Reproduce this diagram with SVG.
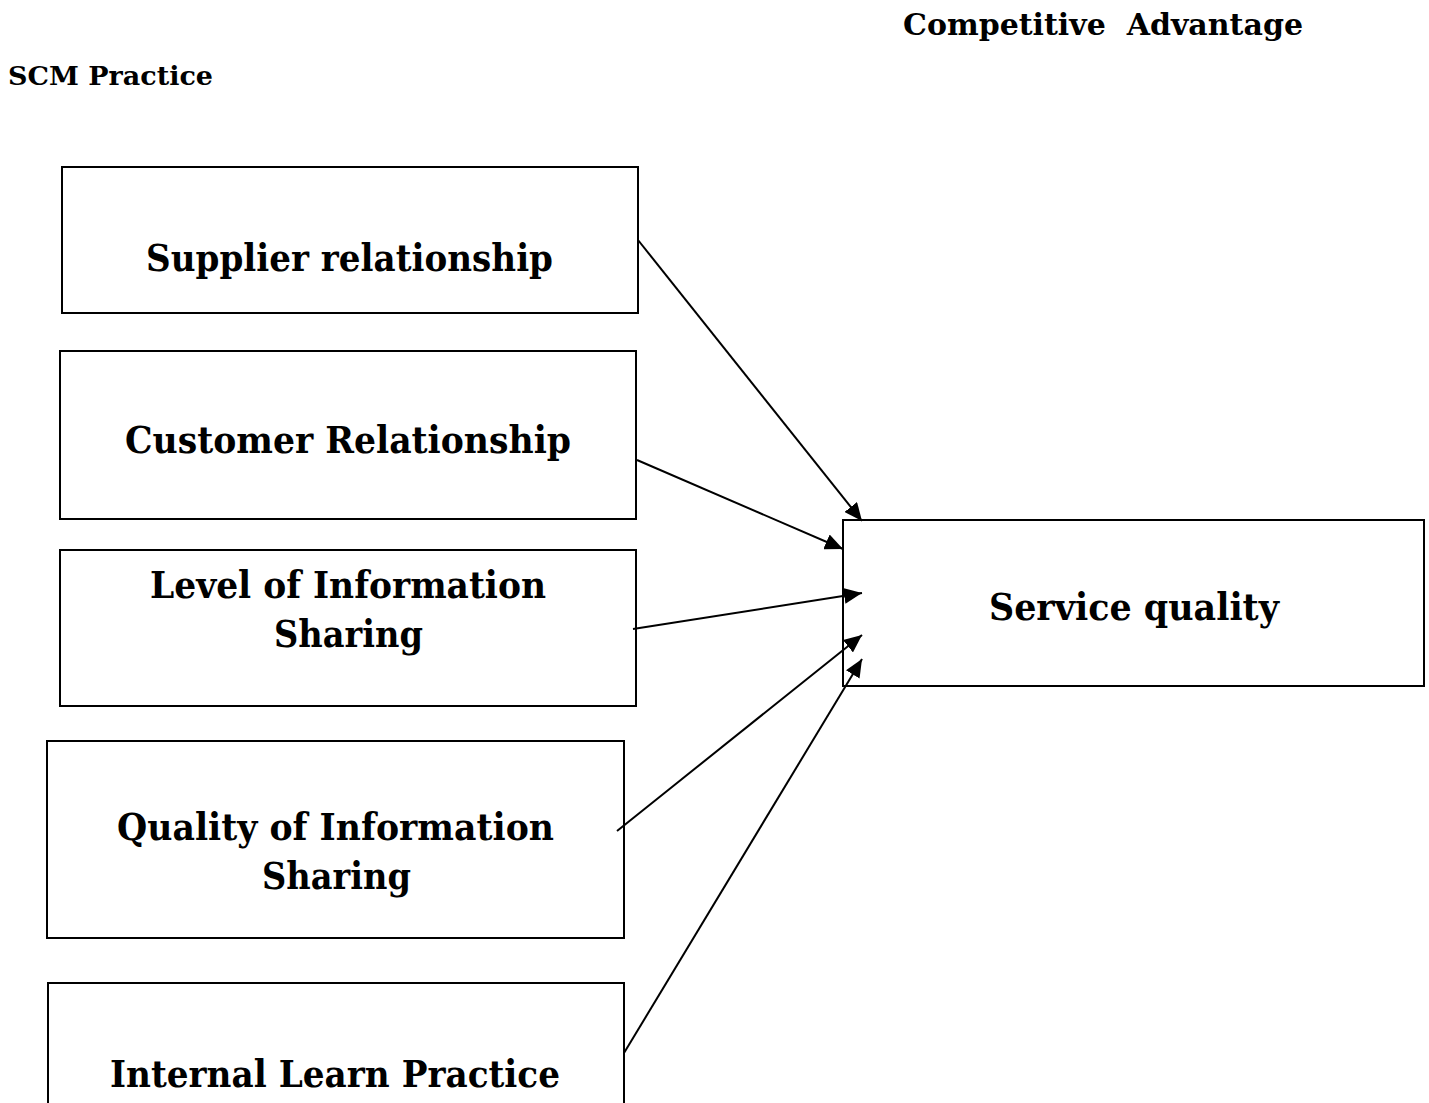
<svg xmlns="http://www.w3.org/2000/svg" width="1429" height="1103" viewBox="0 0 1429 1103">
  <style>
    .box { fill: #ffffff; stroke: #000000; stroke-width: 2; }
    .lbl { font-family: "DejaVu Serif", "Liberation Serif", serif; font-weight: bold; font-size: 38px; fill: #000000; }
    .head { font-family: "DejaVu Serif", "Liberation Serif", serif; font-weight: bold; fill: #000000; }
    .edge { stroke: #000000; stroke-width: 2; fill: none; marker-end: url(#arrow); }
  </style>
  <defs>
    <marker id="arrow" viewBox="0 0 10 10" refX="10" refY="5" markerWidth="9" markerHeight="8" orient="auto" markerUnits="strokeWidth" preserveAspectRatio="none">
      <path d="M0,0 L10,5 L0,10 Z" fill="#000000"/>
    </marker>
  </defs>
  <rect width="1429" height="1103" fill="#ffffff"/>

  <!-- section headings -->
  <g id="heading-ca">
    <text class="head" x="903" y="35" font-size="30" textLength="400" lengthAdjust="spacingAndGlyphs" xml:space="preserve">Competitive  Advantage</text>
  </g>
  <g id="heading-scm">
    <text class="head" x="8" y="85" font-size="26" textLength="205" lengthAdjust="spacingAndGlyphs">SCM Practice</text>
  </g>

  <!-- SCM practice nodes -->
  <g id="node-supplier">
    <rect class="box" x="62" y="167" width="576" height="146"/>
    <text class="lbl" x="146" y="271" textLength="407" lengthAdjust="spacingAndGlyphs">Supplier relationship</text>
  </g>
  <g id="node-customer">
    <rect class="box" x="60" y="351" width="576" height="168"/>
    <text class="lbl" x="125" y="453" textLength="446" lengthAdjust="spacingAndGlyphs">Customer Relationship</text>
  </g>
  <g id="node-level-info">
    <rect class="box" x="60" y="550" width="576" height="156"/>
    <text class="lbl" x="150" y="598" textLength="396" lengthAdjust="spacingAndGlyphs">Level of Information</text>
    <text class="lbl" x="274" y="647" textLength="149" lengthAdjust="spacingAndGlyphs">Sharing</text>
  </g>
  <g id="node-quality-info">
    <rect class="box" x="47" y="741" width="577" height="197"/>
    <text class="lbl" x="117" y="840" textLength="437" lengthAdjust="spacingAndGlyphs">Quality of Information</text>
    <text class="lbl" x="262" y="889" textLength="149" lengthAdjust="spacingAndGlyphs">Sharing</text>
  </g>
  <g id="node-internal">
    <rect class="box" x="48" y="983" width="576" height="140"/>
    <text class="lbl" x="110" y="1087" textLength="450" lengthAdjust="spacingAndGlyphs">Internal Learn Practice</text>
  </g>

  <!-- competitive advantage node -->
  <g id="node-service">
    <rect class="box" x="843" y="520" width="581" height="166"/>
    <text class="lbl" x="989" y="620" textLength="290" lengthAdjust="spacingAndGlyphs">Service quality</text>
  </g>

  <!-- connectors -->
  <g id="connectors">
    <line class="edge" x1="638" y1="240" x2="862" y2="521"/>
    <line class="edge" x1="637" y1="460" x2="843" y2="549"/>
    <line class="edge" x1="633" y1="629" x2="862" y2="593"/>
    <line class="edge" x1="617" y1="831" x2="862" y2="635"/>
    <line class="edge" x1="624" y1="1053" x2="862" y2="659"/>
  </g>
</svg>
